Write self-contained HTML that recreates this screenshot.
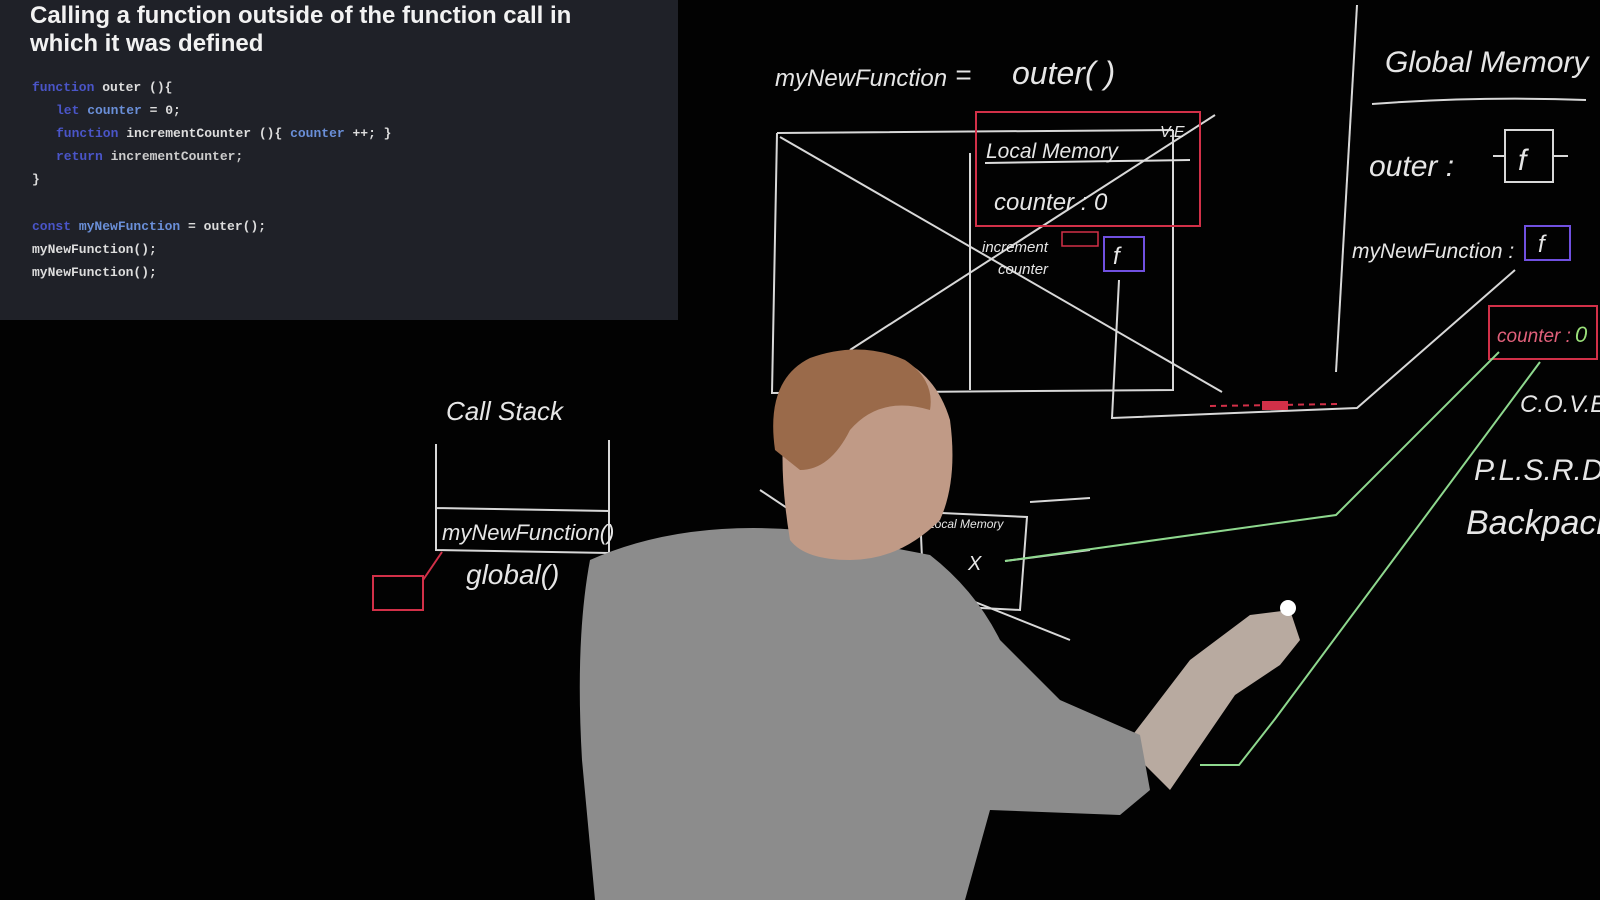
<!DOCTYPE html>
<html><head><meta charset="utf-8"><style>
html,body{margin:0;padding:0;background:#000;width:1600px;height:900px;overflow:hidden}
svg{display:block}
.hw{font-family:"Liberation Sans",sans-serif;font-style:italic;fill:#e6e6e6}
.code{font-family:"Liberation Mono",monospace;font-size:13px;font-weight:bold}
</style></head><body>
<svg width="1600" height="900" viewBox="0 0 1600 900" xmlns="http://www.w3.org/2000/svg">
<rect width="1600" height="900" fill="#020202"/>
<!-- code panel -->
<rect x="0" y="0" width="678" height="320" fill="#1f2128"/>
<text x="30" y="23" font-family="Liberation Sans,sans-serif" font-size="24" font-weight="bold" fill="#f2f2f2">Calling a function outside of the function call in</text>
<text x="30" y="51" font-family="Liberation Sans,sans-serif" font-size="24" font-weight="bold" fill="#f2f2f2">which it was defined</text>
<g class="code">
<text x="32" y="91"><tspan fill="#4a55c8">function</tspan><tspan fill="#ddd"> outer (){</tspan></text>
<text x="56" y="114"><tspan fill="#4a55c8">let</tspan><tspan fill="#6a8fd8"> counter</tspan><tspan fill="#ddd"> = 0;</tspan></text>
<text x="56" y="137"><tspan fill="#4a55c8">function</tspan><tspan fill="#ddd"> incrementCounter (){ </tspan><tspan fill="#6a8fd8">counter</tspan><tspan fill="#ddd"> ++; }</tspan></text>
<text x="56" y="160"><tspan fill="#4a55c8">return</tspan><tspan fill="#ccc"> incrementCounter;</tspan></text>
<text x="32" y="183" fill="#ddd">}</text>
<text x="32" y="230"><tspan fill="#4a55c8">const</tspan><tspan fill="#6a8fd8"> myNewFunction</tspan><tspan fill="#ddd"> = outer();</tspan></text>
<text x="32" y="253" fill="#ddd">myNewFunction();</text>
<text x="32" y="276" fill="#ddd">myNewFunction();</text>
</g>
<!-- whiteboard -->
<g stroke="#d8d8d8" stroke-width="2" fill="none">
<path d="M1357 5 L1336 372"/>
<path d="M1372 104 Q1480 96 1586 100"/>
<path d="M777 133 L1173 130 M777 133 L772 393 L1173 390 L1173 130"/>
<path d="M970 153 L970 390"/>
<path d="M780 137 L1222 392"/>
<path d="M1215 115 L850 350"/>
<path d="M1119 280 L1112 418 L1357 408 L1515 270"/>
<path d="M1505 130 L1553 130 L1553 182 L1505 182 Z M1493 156 L1505 156 M1553 156 L1568 156"/>
<path d="M436 444 L436 510 M609 440 L609 510 M436 508 L609 511 L609 553 L436 550 Z"/>
<path d="M1030 502 L1090 498 M1005 561 L1090 550"/>
<path d="M920 512 L1027 517 L1020 610 L924 605 Z"/>
<path d="M760 490 L790 510 M920 580 L1070 640"/>
</g>
<text x="1518" y="170" class="hw" font-size="30">f</text>
<rect x="976" y="112" width="224" height="114" fill="none" stroke="#d23048" stroke-width="2"/>
<path d="M985 163 L1190 160" stroke="#ddd" stroke-width="2"/>
<rect x="1104" y="237" width="40" height="34" fill="none" stroke="#7050e0" stroke-width="2"/>
<text x="1113" y="264" class="hw" font-size="24" fill="#9a80ff">f</text>
<rect x="1525" y="226" width="45" height="34" fill="none" stroke="#7050e0" stroke-width="2"/>
<text x="1538" y="252" class="hw" font-size="24" fill="#9a80ff">f</text>
<rect x="1489" y="306" width="108" height="53" fill="none" stroke="#d23048" stroke-width="2"/>
<rect x="373" y="576" width="50" height="34" fill="none" stroke="#d23048" stroke-width="2"/>
<path d="M423 580 L442 552" stroke="#d23048" stroke-width="2"/>
<rect x="1062" y="232" width="36" height="14" fill="none" stroke="#d23048" stroke-width="1.5"/>
<rect x="1262" y="401" width="26" height="9" fill="#d23048"/>
<path d="M1210 406 L1340 404" stroke="#d23048" stroke-width="2" stroke-dasharray="6 5"/>
<g stroke="#8ed88e" stroke-width="2" fill="none">
<path d="M1005 561 L1336 515 L1499 352"/>
<path d="M1200 765 L1239 765 L1275 719 L1540 362"/>
</g>
<g class="hw">
<text x="775" y="86" font-size="24">myNewFunction</text>
<text x="955" y="84" font-size="28">=</text>
<text x="1012" y="84" font-size="32">outer( )</text>
<text x="1160" y="137" font-size="16">V.E</text>
<text x="986" y="158" font-size="21">Local Memory</text>
<text x="994" y="210" font-size="24">counter :  0</text>
<text x="982" y="252" font-size="15">increment</text>
<text x="998" y="274" font-size="15">counter</text>
<text x="1385" y="72" font-size="30">Global Memory</text>
<text x="1369" y="176" font-size="30">outer  :</text>
<text x="1352" y="258" font-size="21">myNewFunction  :</text>
<text x="1497" y="342" font-size="19" fill="#e0607a">counter : </text>
<text x="1575" y="342" font-size="22" fill="#9ae07a">0</text>
<text x="1520" y="412" font-size="24">C.O.V.E</text>
<text x="1474" y="480" font-size="30">P.L.S.R.D</text>
<text x="1466" y="534" font-size="34">Backpack</text>
<text x="446" y="420" font-size="26">Call  Stack</text>
<text x="442" y="540" font-size="22">myNewFunction()</text>
<text x="466" y="584" font-size="28">global()</text>
<text x="928" y="528" font-size="12">Local Memory</text>
<text x="968" y="570" font-size="20">X</text>
</g>
<!-- person -->
<path d="M1125 745 L1190 660 L1250 615 L1290 610 L1300 640 L1280 665 L1235 695 L1170 790 Z" fill="#b8aaa0"/>
<circle cx="1288" cy="608" r="8" fill="#fff"/>
<path d="M590 560 Q680 520 800 530 L930 555 Q975 590 1000 640 L1060 700 L1140 735 L1150 790 L1120 815 L990 810 L965 900 L595 900 L582 760 Q575 640 590 560 Z" fill="#8c8c8c"/>
<path d="M790 540 Q775 450 790 390 Q830 345 890 355 Q935 370 950 420 Q958 480 940 520 Q900 560 850 560 Q805 560 790 540 Z" fill="#c09a86"/>
<path d="M775 450 Q765 380 810 358 Q860 340 905 360 Q935 380 930 410 Q880 395 850 430 Q830 470 800 470 Z" fill="#9a6a4a"/>
</svg>
</body></html>
